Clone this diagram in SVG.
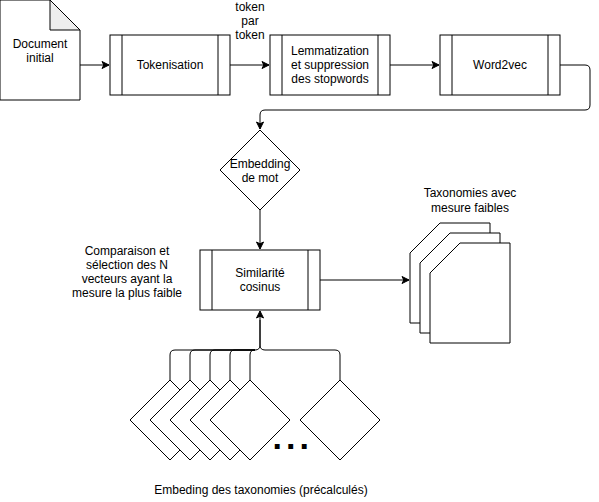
<svg xmlns="http://www.w3.org/2000/svg" width="599" height="502" viewBox="0 0 599 502">
<style>
.s{fill:#fff;stroke:#000;stroke-width:1}
.l{fill:none;stroke:#000;stroke-width:1}
.c{fill:none;stroke:#000;stroke-width:1;marker-end:url(#a)}
text{font-family:"Liberation Sans",Arial,sans-serif;font-size:12px;fill:#000;text-anchor:middle}
</style>
<defs>
<marker id="a" markerWidth="10" markerHeight="10" refX="8" refY="5" orient="auto" markerUnits="userSpaceOnUse">
<path d="M1,1.5 L8,5 L1,8.5 L2.8,5 Z" fill="#000" stroke="#000" stroke-width="1"/>
</marker>
</defs>
<rect width="599" height="502" fill="#fff"/>
<g id="edges">
<path class="c" d="M80,65 H109"/>
<path class="c" d="M230,65 H269"/>
<path class="c" d="M390,65 H439"/>
<path class="c" d="M560,65 H585 Q590,65 590,70 V105 Q590,110 585,110 H265 Q260,110 260,115 V129"/>
<path class="c" d="M260,210 V249"/>
<path class="c" d="M320,280 H409"/>
<path class="l" d="M170,380 V355 Q170,350 175,350 H255 Q260,350 260,345 V320"/>
<path class="l" d="M190,380 V355 Q190,350 195,350 H255"/>
<path class="l" d="M210,380 V355 Q210,350 215,350 H255"/>
<path class="l" d="M230,380 V355 Q230,350 235,350 H255"/>
<path class="l" d="M250,380 V355 Q250,350 255,350"/>
<path class="l" d="M340,380 V355 Q340,350 335,350 H265 Q260,350 260,345"/>
<path class="c" d="M260,345 V311"/>
</g>
<g id="doc">
<path class="s" d="M0,0 H50 L80,30 V100 H0 Z"/>
<path d="M50,0 V30 H80 Z" fill="#eeeeee" stroke="#000"/>
<text x="40" y="48">Document</text>
<text x="40" y="62">initial</text>
</g>
<g id="tokenisation">
<rect class="s" x="110" y="35" width="120" height="60"/>
<path class="l" d="M122,35 V95 M218,35 V95"/>
<text x="170" y="69">Tokenisation</text>
</g>
<g id="tokenlabel">
<text x="250" y="11">token</text>
<text x="250" y="25">par</text>
<text x="250" y="39">token</text>
</g>
<g id="lemmatization">
<rect class="s" x="270" y="35" width="120" height="60"/>
<path class="l" d="M282,35 V95 M378,35 V95"/>
<text x="330" y="55">Lemmatization</text>
<text x="330" y="69">et suppression</text>
<text x="330" y="83">des stopwords</text>
</g>
<g id="word2vec">
<rect class="s" x="440" y="35" width="120" height="60"/>
<path class="l" d="M452,35 V95 M548,35 V95"/>
<text x="500" y="69">Word2vec</text>
</g>
<g id="embedding">
<path class="s" d="M260,130 L300,170 L260,210 L220,170 Z"/>
<text x="260" y="168">Embedding</text>
<text x="260" y="182">de mot</text>
</g>
<g id="similarite">
<rect class="s" x="200" y="250" width="120" height="60"/>
<path class="l" d="M212,250 V310 M308,250 V310"/>
<text x="260" y="277">Similarité</text>
<text x="260" y="291">cosinus</text>
</g>
<g id="comparaison">
<text x="127" y="255">Comparaison et</text>
<text x="127" y="269">sélection des N</text>
<text x="127" y="283">vecteurs ayant la</text>
<text x="127" y="297">mesure la plus faible</text>
</g>
<g id="taxonomies">
<path class="s" d="M440,223 H490 V323 H410 V253 Z"/>
<path class="s" d="M450,233 H500 V333 H420 V263 Z"/>
<path class="s" d="M460,243 H510 V343 H430 V273 Z"/>
<text x="470" y="197">Taxonomies avec</text>
<text x="470" y="212">mesure faibles</text>
</g>
<g id="embeddings">
<path class="s" d="M170,380 L210,420 L170,460 L130,420 Z"/>
<path class="s" d="M190,380 L230,420 L190,460 L150,420 Z"/>
<path class="s" d="M210,380 L250,420 L210,460 L170,420 Z"/>
<path class="s" d="M230,380 L270,420 L230,460 L190,420 Z"/>
<path class="s" d="M250,380 L290,420 L250,460 L210,420 Z"/>
<path class="s" d="M340,380 L380,420 L340,460 L300,420 Z"/>
<text x="272.5" y="448.5" style="font-size:34px;font-weight:bold;letter-spacing:4px;text-anchor:start">...</text>
<text x="261" y="494">Embeding des taxonomies (précalculés)</text>
</g>
</svg>
